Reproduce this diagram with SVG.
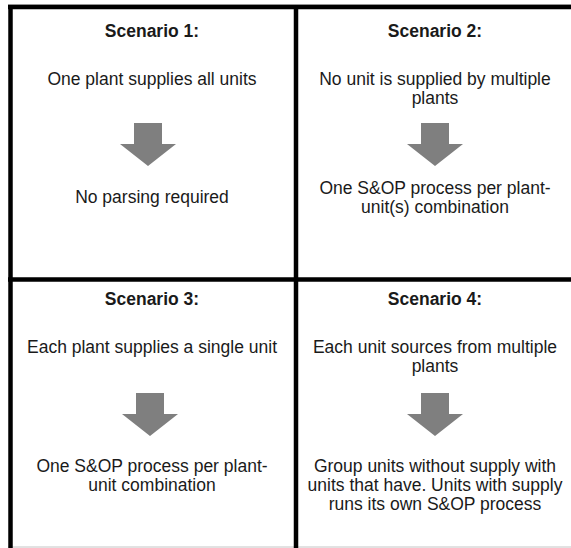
<svg xmlns="http://www.w3.org/2000/svg" width="571" height="548" viewBox="0 0 571 548">
  <defs>
    <style>
      .frame { stroke: #000; stroke-width: 4.5; fill: none; }
      .edge { stroke: #c4c4c4; stroke-width: 1; fill: none; }
      .title { font-family: "Liberation Sans", Arial, sans-serif; font-size: 17.5px; font-weight: bold; fill: #1a1a1a; text-anchor: middle; }
      .body { font-family: "Liberation Sans", Arial, sans-serif; font-size: 17.5px; fill: #1a1a1a; text-anchor: middle; }
      .arrow { fill: #7f7f7f; }
    </style>
    <!-- block down-arrow, origin at the top centre of the shaft -->
    <path id="down" d="M -14 0 H 14 V 21 H 28 L 0 43 L -28 21 H -14 Z"/>
  </defs>

  <rect width="571" height="548" fill="#fff"/>

  <!-- grid lines between the four panels -->
  <g id="connectors">
    <line class="edge" x1="8" y1="4.5" x2="571" y2="4.5"/>
    <line class="edge" x1="8" y1="547" x2="571" y2="547"/>
    <line class="frame" x1="8" y1="7" x2="571" y2="7"/>
    <line class="frame" x1="10.5" y1="5" x2="10.5" y2="548"/>
    <line class="frame" x1="296" y1="5" x2="296" y2="548"/>
    <line class="frame" x1="8" y1="279.5" x2="571" y2="279.5"/>
  </g>

  <g id="scenario1">
    <text class="title" x="152" y="37">Scenario 1:</text>
    <text class="body" x="152" y="85">One plant supplies all units</text>
    <use href="#down" class="arrow" x="148" y="123"/>
    <text class="body" x="152" y="203">No parsing required</text>
  </g>

  <g id="scenario2">
    <text class="title" x="435" y="37">Scenario 2:</text>
    <text class="body" x="435" y="85">No unit is supplied by multiple</text>
    <text class="body" x="435" y="104">plants</text>
    <use href="#down" class="arrow" x="435" y="123"/>
    <text class="body" x="435" y="194">One S&amp;OP process per plant-</text>
    <text class="body" x="435" y="213">unit(s) combination</text>
  </g>

  <g id="scenario3">
    <text class="title" x="152" y="305">Scenario 3:</text>
    <text class="body" x="152" y="353">Each plant supplies a single unit</text>
    <use href="#down" class="arrow" x="150" y="393"/>
    <text class="body" x="152" y="472">One S&amp;OP process per plant-</text>
    <text class="body" x="152" y="491">unit combination</text>
  </g>

  <g id="scenario4">
    <text class="title" x="435" y="305">Scenario 4:</text>
    <text class="body" x="435" y="353">Each unit sources from multiple</text>
    <text class="body" x="435" y="372">plants</text>
    <use href="#down" class="arrow" x="435" y="393"/>
    <text class="body" x="435" y="472">Group units without supply with</text>
    <text class="body" x="435" y="491">units that have. Units with supply</text>
    <text class="body" x="435" y="510">runs its own S&amp;OP process</text>
  </g>
</svg>
